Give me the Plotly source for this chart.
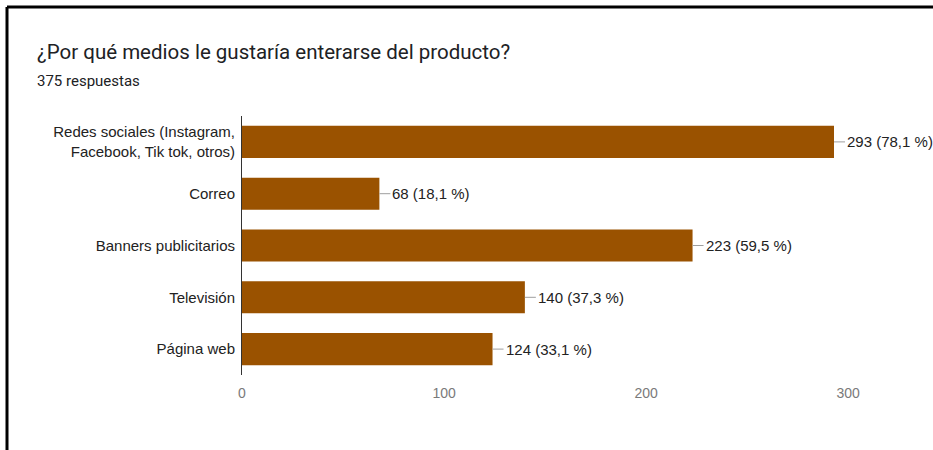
import plotly.graph_objects as go

# Survey results: preferred channels to hear about the product
categories = [
    "Redes sociales (Instagram,<br>Facebook, Tik tok, otros)",
    "Correo",
    "Banners publicitarios",
    "Televisión",
    "Página web",
]
counts = [293, 68, 223, 140, 124]
total_responses = 375
x_ticks = [0, 100, 200, 300]

title_text = "¿Por qué medios le gustaría enterarse del producto?"
subtitle_text = f"{total_responses} respuestas"

# Labels like "293 (78,1 %)" computed from the counts
labels = [
    f"{c} ({c / total_responses * 100:.1f} %)".replace(".", ",") for c in counts
]

W, H = 933, 450
L, R, T, B = 242, 0, 116, 75
PW, PH = W - L - R, H - T - B


def px(x):
    return (x - L) / PW


def py(y):
    return (H - B - y) / PH


BAR_COLOR = "#9a5200"
CHART_FONT = "Liberation Sans, Arial"

fig = go.Figure(
    go.Bar(
        x=counts,
        y=categories,
        orientation="h",
        marker=dict(color=BAR_COLOR, line=dict(width=0)),
        hoverinfo="skip",
    )
)

# Value labels with a short leader line from the end of each bar
annotations = []
for c, cat, lab in zip(counts, categories, labels):
    annotations.append(
        dict(
            x=c,
            y=cat,
            xref="x",
            yref="y",
            text=lab,
            showarrow=True,
            arrowhead=0,
            arrowwidth=1,
            arrowcolor="#9e9e9e",
            ax=11,
            ay=0,
            xanchor="left",
            yanchor="middle",
            font=dict(family=CHART_FONT, size=15, color="#222222"),
        )
    )

annotations.append(
    dict(
        x=px(35), y=py(52), xref="paper", yref="paper",
        text=title_text, showarrow=False, xanchor="left", yanchor="middle",
        font=dict(family="Roboto", size=20.5, color="#202124"),
    )
)
annotations.append(
    dict(
        x=px(35), y=py(81), xref="paper", yref="paper",
        text=subtitle_text, showarrow=False, xanchor="left", yanchor="middle",
        font=dict(family="Roboto", size=15, color="#202124"),
    )
)

# Black frame along the top and left edges
shapes = [
    dict(type="line", xref="paper", yref="paper",
         x0=px(7), x1=px(W + 5), y0=py(7), y1=py(7),
         line=dict(color="#000000", width=3)),
    dict(type="line", xref="paper", yref="paper",
         x0=px(7), x1=px(7), y0=py(7), y1=py(H + 5),
         line=dict(color="#000000", width=3)),
]

fig.update_layout(
    width=W,
    height=H,
    margin=dict(l=L, r=R, t=T, b=B, pad=0),
    paper_bgcolor="#ffffff",
    plot_bgcolor="#ffffff",
    showlegend=False,
    bargap=0.38,
    annotations=annotations,
    shapes=shapes,
    xaxis=dict(
        range=[0, 342],
        tickvals=x_ticks,
        showgrid=False,
        zeroline=False,
        showline=False,
        ticks="",
        ticklabelstandoff=8,
        tickfont=dict(family=CHART_FONT, size=14, color="#7a7a7a"),
        fixedrange=True,
    ),
    yaxis=dict(
        categoryorder="array",
        categoryarray=categories,
        autorange="reversed",
        showgrid=False,
        zeroline=False,
        showline=True,
        linecolor="#333333",
        linewidth=1,
        ticks="",
        ticklabelstandoff=3,
        tickfont=dict(family=CHART_FONT, size=15, color="#222222"),
        fixedrange=True,
    ),
)

fig.write_html("out.html")
